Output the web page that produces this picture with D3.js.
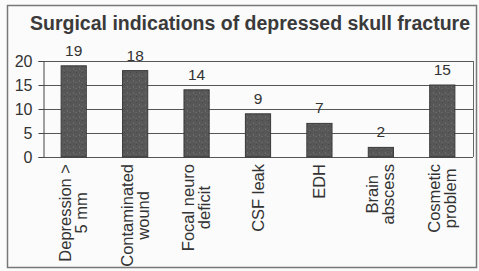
<!DOCTYPE html>
<html lang="en">
<head>
<meta charset="UTF-8">
<title>Surgical indications of depressed skull fracture</title>
<script src="https://d3js.org/d3.v7.min.js"></script>
<style>
  body { margin: 0; background: #fff; }
  svg { display: block; font-family: Arial, 'Liberation Sans', sans-serif; }
</style>
</head>
<body>
<div id="chart"></div>
<script>
const categories = [
  ["Depression >", "5 mm"],
  ["Contaminated", "wound"],
  ["Focal neuro", "deficit"],
  ["CSF leak"],
  ["EDH"],
  ["Brain", "abscess"],
  ["Cosmetic", "problem"]
];
const values = [19, 18, 14, 9, 7, 2, 15];
const yTicks = [0, 5, 10, 15, 20];

const W = 479, H = 271;
const m = { left: 43, right: 6, top: 61, bottom: 114 };

const svg = d3.select("#chart").append("svg")
  .attr("width", W).attr("height", H);

svg.append("rect").attr("width", W).attr("height", H).attr("fill", "#fbfbfb");

// outer frame
svg.append("rect")
  .attr("x", 7.5).attr("y", 5.5).attr("width", 469).attr("height", 262)
  .attr("fill", "none").attr("stroke", "#777").attr("stroke-width", 1.5);

svg.append("text")
  .attr("x", 250).attr("y", 30)
  .attr("text-anchor", "middle")
  .attr("font-weight", "bold").attr("font-size", 19.5)
  .attr("fill", "#3a3a3a")
  .text("Surgical indications of depressed skull fracture");

const x = d3.scaleBand()
  .domain(d3.range(categories.length))
  .range([m.left, W - m.right])
  .paddingInner(0.59).paddingOuter(0.295);

const y = d3.scaleLinear().domain([0, 20]).range([H - m.bottom, m.top]);

// grid lines
svg.append("g").selectAll("line").data(yTicks).join("line")
  .attr("x1", m.left).attr("x2", W - m.right)
  .attr("y1", d => Math.round(y(d)) + 0.5).attr("y2", d => Math.round(y(d)) + 0.5)
  .attr("stroke", "#555").attr("stroke-width", 1);

// plot frame right
svg.append("line")
  .attr("x1", W - m.right + 0.5).attr("x2", W - m.right + 0.5)
  .attr("y1", m.top).attr("y2", H - m.bottom)
  .attr("stroke", "#666");

// y axis
const yAxis = svg.append("g")
  .attr("transform", `translate(${m.left + 0.5},0)`)
  .call(d3.axisLeft(y).tickValues(yTicks).tickSize(5).tickPadding(6));
yAxis.select(".domain").attr("stroke", "#444");
yAxis.selectAll(".tick line").attr("stroke", "#444");
yAxis.selectAll(".tick text")
  .attr("font-size", 16).attr("fill", "#333").attr("font-family", "Arial, 'Liberation Sans', sans-serif");

// bar texture
const defs = svg.append("defs");
const pat = defs.append("pattern").attr("id", "grain")
  .attr("width", 6).attr("height", 6).attr("patternUnits", "userSpaceOnUse");
pat.append("rect").attr("width", 6).attr("height", 6).attr("fill", "#575757");
pat.append("rect").attr("x", 1).attr("y", 2).attr("width", 1).attr("height", 2).attr("fill", "#6a6a6a");
pat.append("rect").attr("x", 4).attr("y", 0).attr("width", 1).attr("height", 1).attr("fill", "#484848");
pat.append("rect").attr("x", 3).attr("y", 4).attr("width", 2).attr("height", 1).attr("fill", "#656565");

svg.append("g").selectAll("rect").data(values).join("rect")
  .attr("x", (d, i) => x(i))
  .attr("y", d => y(d))
  .attr("width", x.bandwidth())
  .attr("height", d => y(0) - y(d))
  .attr("fill", "url(#grain)")
  .attr("stroke", "#3a3a3a").attr("stroke-width", 1);

// value labels
svg.append("g").selectAll("text").data(values).join("text")
  .attr("x", (d, i) => x(i) + x.bandwidth() / 2)
  .attr("y", d => y(d) - 10)
  .attr("text-anchor", "middle")
  .attr("font-size", 15.5).attr("fill", "#333")
  .text(d => d);

// category labels, rotated
const fs = 16.5, lineH = 16;
const labels = svg.append("g").selectAll("g").data(categories).join("g")
  .attr("transform", (d, i) => `translate(${x(i) + x.bandwidth() / 2},164) rotate(-90)`);
labels.each(function(lines) {
  const g = d3.select(this);
  const tmp = g.append("text").attr("font-size", fs);
  let maxW = 0;
  lines.forEach(l => { tmp.text(l); maxW = Math.max(maxW, tmp.node().getComputedTextLength()); });
  tmp.remove();
  lines.forEach((l, k) => {
    g.append("text")
      .attr("x", -maxW / 2)
      .attr("y", (k - (lines.length - 1) / 2) * lineH + 5.5)
      .attr("text-anchor", "middle")
      .attr("font-size", fs).attr("fill", "#333")
      .text(l);
  });
});
</script>
</body>
</html>
